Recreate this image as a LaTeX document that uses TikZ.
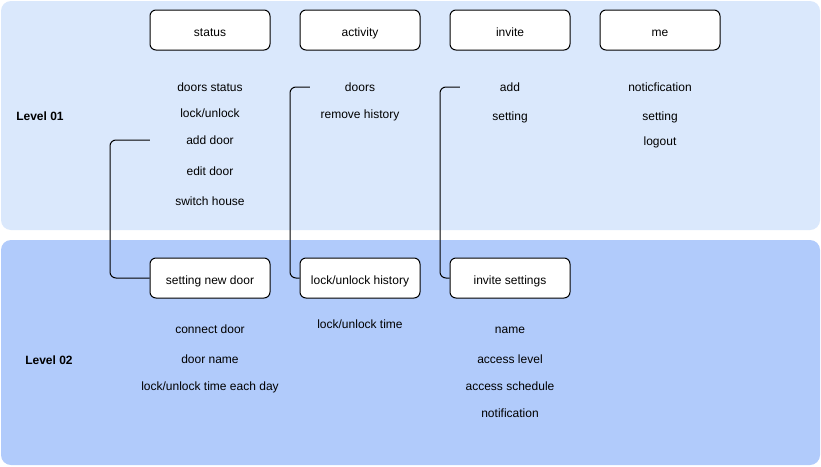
\documentclass[tikz,border=0pt]{standalone}
\usepackage{fontspec}
\setmainfont{Liberation Sans}
\begin{document}
\begin{tikzpicture}[x=1pt,y=-1pt,
  panel/.style={rounded corners=10pt, draw=none},
  menubox/.style={draw=black, fill=white, rounded corners=6pt, line width=1pt, minimum width=120pt, minimum height=40pt, inner sep=0pt, text height=12.6pt, text depth=0pt, font=\fontsize{12}{14}\selectfont},
  item/.style={inner sep=0pt, text height=8.6pt, text depth=0pt, font=\fontsize{12}{14}\selectfont},
  lvl/.style={inner sep=0pt, font=\bfseries\fontsize{12}{14}\selectfont},
  link/.style={draw=black, line width=1pt, rounded corners=6pt}]
\definecolor{panelA}{HTML}{DAE8FC}
\definecolor{panelB}{HTML}{B1CBFB}
\useasboundingbox (0,0) rectangle (821,466);
\fill[white] (0,0) rectangle (821,466);
\path[panel, fill=panelA] (1,1) rectangle (820,230);
\path[panel, fill=panelB] (1,240) rectangle (820,465);

\node[lvl] (l1) at (40,116) {Level 01};
\node[lvl] (l2) at (49,360) {Level 02};

% level 1 boxes
\node[menubox] (status) at (210,30) {status};
\node[menubox] (activity) at (360,30) {activity};
\node[menubox] (invite) at (510,30) {invite};
\node[menubox] (me) at (660,30) {me};

% status items
\node[item] (s1) at (210,87) {doors status};
\node[item] (s2) at (210,113) {lock/unlock};
\node[item, minimum width=120pt] (s3) at (210,140) {add door};
\node[item] (s4) at (210,171) {edit door};
\node[item] (s5) at (210,201) {switch house};

% activity items
\node[item, minimum width=100pt] (a1) at (360,87) {doors};
\node[item] (a2) at (360,114) {remove history};

% invite items
\node[item, minimum width=100pt] (i1) at (510,87) {add};
\node[item] (i2) at (510,116) {setting};

% me items
\node[item] (m1) at (660,87) {noticfication};
\node[item] (m2) at (660,116) {setting};
\node[item] (m3) at (660,141) {logout};

% level 2 boxes
\node[menubox] (newdoor) at (210,278) {setting new door};
\node[menubox] (history) at (360,278) {lock/unlock history};
\node[menubox] (invset) at (510,278) {invite settings};

\node[item] (n1) at (210,329) {connect door};
\node[item] (n2) at (210,359) {door name};
\node[item] (n3) at (210,386) {lock/unlock time each day};

\node[item] (h1) at (360,324) {lock/unlock time};

\node[item] (v1) at (510,329) {name};
\node[item] (v2) at (510,359) {access level};
\node[item] (v3) at (510,386) {access schedule};
\node[item] (v4) at (510,413) {notification};

% connectors
\draw[link] (s3.west) -- (110,140) -- (110,278) -- (newdoor.west);
\draw[link] (a1.west) -- (290,87) -- (290,278) -- (history.west);
\draw[link] (i1.west) -- (440,87) -- (440,278) -- (invset.west);
\end{tikzpicture}
\end{document}
